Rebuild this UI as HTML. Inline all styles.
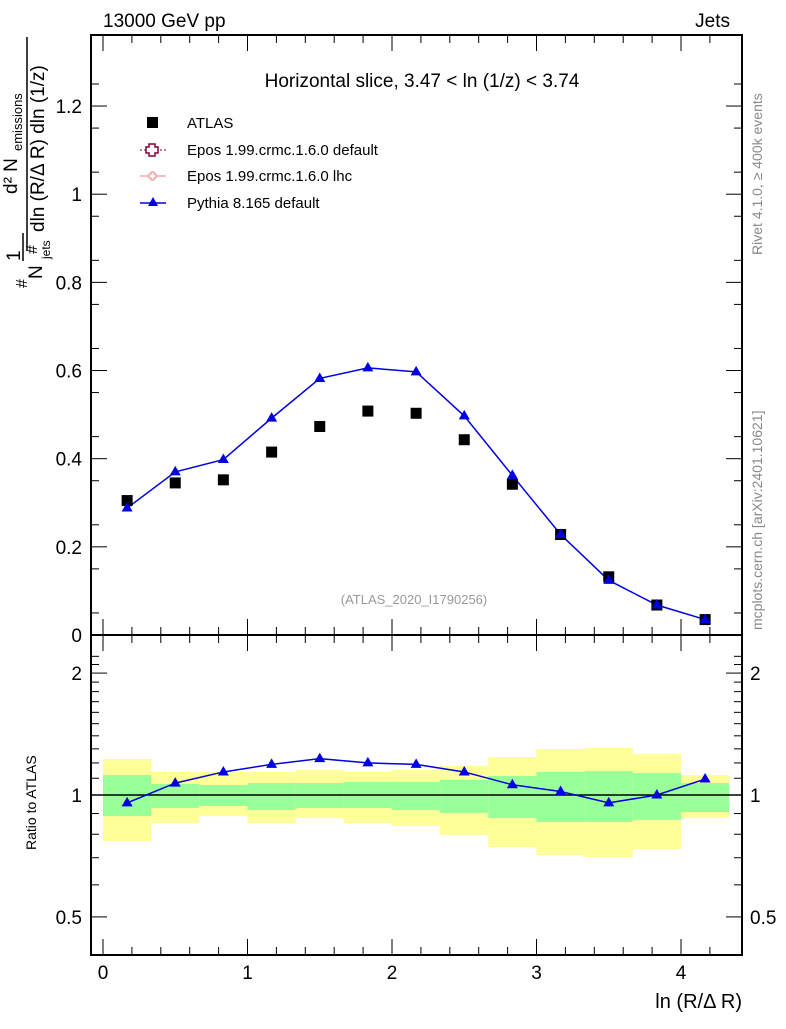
<!DOCTYPE html>
<html><head><meta charset="utf-8"><style>
body{margin:0;background:#fff;}
svg text{font-family:"Liberation Sans",sans-serif;}
</style></head><body>
<svg id="c" width="786" height="1024" xmlns="http://www.w3.org/2000/svg">
<rect width="786" height="1024" fill="#fff"/>
<g id="ratioBands"></g>
<g id="main"></g>
<g id="frames">
<rect x="91" y="35" width="651" height="600" fill="none" stroke="#000" stroke-width="2"/>
<rect x="91" y="635" width="651" height="320" fill="none" stroke="#000" stroke-width="2"/>
</g>
<g id="ticks"></g>
<text x="103" y="27" font-size="19">13000 GeV pp</text>
<text x="730" y="27" font-size="19" text-anchor="end">Jets</text>
<text x="422" y="87" font-size="19" text-anchor="middle">Horizontal slice, 3.47 &lt; ln (1/z) &lt; 3.74</text>
<text x="414" y="604" font-size="13" fill="#999" text-anchor="middle">(ATLAS_2020_I1790256)</text>
<text transform="translate(762,255) rotate(-90)" font-size="14" fill="#888">Rivet 4.1.0, ≥ 400k events</text>
<text transform="translate(762,630) rotate(-90)" font-size="14" fill="#888">mcplots.cern.ch [arXiv:2401.10621]</text>
<g>
<text transform="translate(27,288) rotate(-90)" font-size="16">#</text>
<text transform="translate(20,261) rotate(-90)" font-size="19">1</text>
<line x1="23" y1="261" x2="23" y2="233" stroke="#000" stroke-width="1.5"/>
<text transform="translate(42,279) rotate(-90)" font-size="19">N</text>
<text transform="translate(50,259) rotate(-90)" font-size="12">jets</text>
<text transform="translate(37,254) rotate(-90)" font-size="16">#</text>
<line x1="27" y1="250" x2="27" y2="37" stroke="#000" stroke-width="1.5"/>
<text transform="translate(17,194) rotate(-90)" font-size="19">d² N</text>
<text transform="translate(22,151) rotate(-90)" font-size="13">emissions</text>
<text transform="translate(44,232) rotate(-90)" font-size="19">dln (R/Δ R) dln (1/z)</text>
</g>
<text transform="translate(36,850) rotate(-90)" font-size="14">Ratio to ATLAS</text>
<text x="742" y="1008" font-size="20" text-anchor="end">ln (R/Δ R)</text>
<g>
<rect x="147" y="117" width="11" height="11" fill="#000"/>
<text x="187" y="128" font-size="15">ATLAS</text>
<line x1="140" y1="150" x2="166" y2="150" stroke="#800033" stroke-dasharray="2,2"/>
<path d="M149 144h6v3h3v6h-3v3h-6v-3h-3v-6h3z" fill="#fff" stroke="#800033" stroke-width="1.5"/>
<text x="187" y="155" font-size="15">Epos 1.99.crmc.1.6.0 default</text>
<line x1="140" y1="176" x2="166" y2="176" stroke="#f08080"/>
<path d="M151 172h3v2h2v4h-2v2h-3v-2h-2v-4h2z" fill="#fff" stroke="#f08080"/>
<text x="187" y="181" font-size="15">Epos 1.99.crmc.1.6.0 lhc</text>
<line x1="140" y1="203" x2="166" y2="203" stroke="#0000e0" stroke-width="1.5"/>
<path d="M153 197l5 9h-10z" fill="#0000e0"/>
<text x="187" y="208" font-size="15">Pythia 8.165 default</text>
</g>
</svg>
<script>
const xCenters=[0.167,0.5,0.833,1.167,1.5,1.833,2.167,2.5,2.833,3.167,3.5,3.833,4.167];
const binEdges=[0,0.333,0.667,1,1.333,1.667,2,2.333,2.667,3,3.333,3.667,4,4.333];
const atlas=[0.305,0.345,0.352,0.415,0.473,0.508,0.503,0.443,0.342,0.228,0.132,0.068,0.035];
const pythia=[0.288,0.370,0.398,0.492,0.582,0.606,0.597,0.497,0.362,0.228,0.124,0.068,0.035];
const pythiaRatio=[0.956,1.07,1.14,1.19,1.23,1.20,1.19,1.14,1.06,1.02,0.956,1.0,1.095];
const yellowHi=[1.227,1.14,1.14,1.14,1.153,1.14,1.153,1.179,1.241,1.299,1.306,1.262,1.12];
const greenHi=[1.12,1.065,1.058,1.07,1.07,1.077,1.077,1.089,1.114,1.14,1.146,1.133,1.07];
const greenLo=[0.887,0.929,0.939,0.918,0.929,0.929,0.918,0.903,0.877,0.858,0.858,0.868,0.908];
const yellowLo=[0.77,0.853,0.887,0.853,0.877,0.853,0.838,0.797,0.744,0.711,0.703,0.736,0.877];
const mainTicks=[0,0.2,0.4,0.6,0.8,1,1.2];
const mainTickLabels=["0","0.2","0.4","0.6","0.8","1","1.2"];
const ratioTicks=[0.5,1,2];
const ratioTickLabels=["0.5","1","2"];
const xTicks=[0,1,2,3,4];
const xTickLabels=["0","1","2","3","4"];

const NS="http://www.w3.org/2000/svg";
const X=v=>103+v*144.5;
const Y=v=>635-v*440.8;
const R=v=>795-405*Math.log10(v);
function mk(tag,attrs,parent){const e=document.createElementNS(NS,tag);for(const k in attrs)e.setAttribute(k,attrs[k]);parent.appendChild(e);return e;}
const bands=document.getElementById('ratioBands'),main=document.getElementById('main'),ticks=document.getElementById('ticks');
for(let i=0;i<xCenters.length;i++){
  const x0=X(binEdges[i]),x1=X(binEdges[i+1]);
  const y=mk('rect',{x:x0,y:R(yellowHi[i]),width:x1-x0,height:R(yellowLo[i])-R(yellowHi[i]),fill:'#ffff99'},bands);
  
  
  const g=mk('rect',{x:x0,y:R(greenHi[i]),width:x1-x0,height:R(greenLo[i])-R(greenHi[i]),fill:'#99ff99'},bands);
  
  
}
const one=mk('line',{x1:91,x2:742,y1:R(1),y2:R(1),stroke:'#000','stroke-width':1.5},bands);


const pl=mk('polyline',{points:xCenters.map((x,i)=>X(x)+','+Y(pythia[i])).join(' '),fill:'none',stroke:'#0000e0','stroke-width':1.5},main);


const rl=mk('polyline',{points:xCenters.map((x,i)=>X(x)+','+R(pythiaRatio[i])).join(' '),fill:'none',stroke:'#0000e0','stroke-width':1.5},main);


for(let i=0;i<xCenters.length;i++){
  const cx=X(xCenters[i]);
  const a=mk('rect',{x:cx-5.5,y:Y(atlas[i])-5.5,width:11,height:11,fill:'#000'},main);
  
  
  const py=Y(pythia[i]);
  const t=mk('path',{d:`M${cx} ${py-6}l5.5 9.5h-11z`,fill:'#0000e0'},main);
  
  
  const ry=R(pythiaRatio[i]);
  const t2=mk('path',{d:`M${cx} ${ry-6}l5.5 9.5h-11z`,fill:'#0000e0'},main);
  
  
}
mainTicks.forEach((v,i)=>{
  mk('line',{x1:91,x2:107,y1:Y(v),y2:Y(v),stroke:'#000'},ticks);
  mk('line',{x1:726,x2:742,y1:Y(v),y2:Y(v),stroke:'#000'},ticks);
  const t=mk('text',{x:82,y:Y(v)+7,'font-size':19,'text-anchor':'end'},ticks);t.textContent=mainTickLabels[i];
  
  
});
for(let v=0.05;v<1.35;v+=0.1){mk('line',{x1:91,x2:99,y1:Y(v),y2:Y(v),stroke:'#000'},ticks);mk('line',{x1:734,x2:742,y1:Y(v),y2:Y(v),stroke:'#000'},ticks);}
ratioTicks.forEach((v,i)=>{
  mk('line',{x1:91,x2:107,y1:R(v),y2:R(v),stroke:'#000'},ticks);
  mk('line',{x1:726,x2:742,y1:R(v),y2:R(v),stroke:'#000'},ticks);
  const t=mk('text',{x:82,y:R(v)+7,'font-size':19,'text-anchor':'end'},ticks);t.textContent=ratioTickLabels[i];
  
  
  const t2=mk('text',{x:750,y:R(v)+7,'font-size':19},ticks);t2.textContent=ratioTickLabels[i];
  
  
});
[0.6,0.7,0.8,0.9,1.1,1.2,1.3,1.4,1.5,1.6,1.7,1.8,1.9,2.1,2.2].forEach(v=>{mk('line',{x1:91,x2:99,y1:R(v),y2:R(v),stroke:'#000'},ticks);mk('line',{x1:734,x2:742,y1:R(v),y2:R(v),stroke:'#000'},ticks);});
xTicks.forEach((v,i)=>{
  mk('line',{x1:X(v),x2:X(v),y1:955,y2:939,stroke:'#000'},ticks);
  mk('line',{x1:X(v),x2:X(v),y1:635,y2:619,stroke:'#000'},ticks);
  mk('line',{x1:X(v),x2:X(v),y1:35,y2:51,stroke:'#000'},ticks);
  mk('line',{x1:X(v),x2:X(v),y1:635,y2:651,stroke:'#000'},ticks);
  const t=mk('text',{x:X(v),y:979,'font-size':19,'text-anchor':'middle'},ticks);t.textContent=xTickLabels[i];
  
  
});
for(let v=0.2;v<4.4;v+=0.2){if(Math.abs(v-Math.round(v))<0.01)continue;[[955,947],[635,627],[35,43],[635,643]].forEach(p=>mk('line',{x1:X(v),x2:X(v),y1:p[0],y2:p[1],stroke:'#000'},ticks));}
</script>
</body></html>
